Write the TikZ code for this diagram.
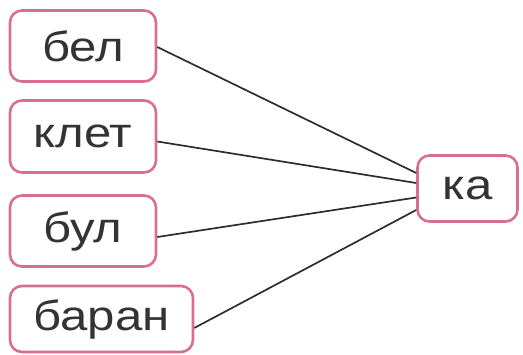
\documentclass[tikz,border=0pt]{standalone}
\usepackage{fontspec}
\setmainfont{Liberation Sans}
\newfontfamily\wordfont[FakeStretch=1.17]{Liberation Sans}
\definecolor{boxpink}{RGB}{214,112,142}
\definecolor{linegray}{RGB}{45,45,45}
\tikzset{
  wordbox/.style={draw=boxpink, line width=2.6pt, rounded corners=12pt, fill=white,
    inner sep=0pt, font=\wordfont\fontsize{42}{42}\selectfont, text=black!80},
  link/.style={draw=linegray, line width=1.7pt}
}
\begin{document}
\begin{tikzpicture}[x=1pt,y=-1pt]
\useasboundingbox (0,0) rectangle (523,355);
\node[wordbox, minimum width=146pt, minimum height=71pt] (bel) at (83,46) {бел};
\node[wordbox, minimum width=146pt, minimum height=72pt] (klet) at (83,136.5) {клет};
\node[wordbox, minimum width=146pt, minimum height=71pt] (bul) at (83,231) {бул};
\node[wordbox, minimum width=183pt, minimum height=66pt] (baran) at (101.5,319) {баран};
\node[wordbox, minimum width=100pt, minimum height=66pt] (ka) at (467.5,188.5) {ка};
\coordinate (k1) at ([yshift=15.5pt]ka.west);
\coordinate (k2) at ([yshift=5.5pt]ka.west);
\coordinate (k3) at ([yshift=-9pt]ka.west);
\coordinate (k4) at ([yshift=-21.5pt]ka.west);
\draw[link] ([yshift=-1pt]bel.east) -- (k1);
\draw[link] ([yshift=-5pt]klet.east) -- (k2);
\draw[link] ([yshift=-6pt]bul.east) -- (k3);
\draw[link] ([yshift=-9pt]baran.east) -- (k4);
\end{tikzpicture}
\end{document}
